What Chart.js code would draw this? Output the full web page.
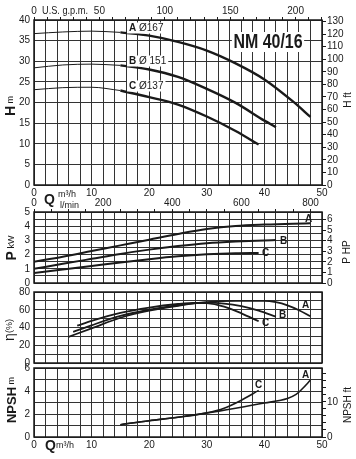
<!DOCTYPE html>
<html><head><meta charset="utf-8">
<script src="https://cdn.jsdelivr.net/npm/chart.js@4/dist/chart.umd.min.js"></script>
<style>
html,body{margin:0;padding:0;background:#fff;}
#wrap{position:relative;width:356px;height:459px;overflow:hidden;background:#fff;}
canvas{position:absolute;left:0;}
</style></head><body>
<div id="wrap">
<canvas id="cH" width="356" height="212" style="top:0px"></canvas>
<canvas id="cP" width="356" height="97" style="top:196px"></canvas>
<canvas id="cE" width="356" height="91" style="top:282px"></canvas>
<canvas id="cN" width="356" height="101" style="top:358px"></canvas>
</div>
<script>
// ---------- DATA ----------
// Head curves H (m) vs Q (m3/h)
const flowA_H = [0,5,10,15,20,25,30,35,40,45,48];
const headA   = [36.7,37.1,37.3,37.0,36.2,34.7,32.6,29.5,25.6,20.2,16.5];
const flowB_H = [0,5,10,15,20,25,30,35,40,42];
const headB   = [28.4,29.1,29.3,29.0,28.0,26.2,23.3,19.9,15.6,14.0];
const flowC_H = [0,5,10,15,20,25,30,35,39];
const headC   = [23.1,23.6,23.7,22.9,21.3,19.5,16.6,13.1,9.8];
const thickFrom = 15; // thin line below this flow, thick above

// Power P (kW)
const flowA_P = [0,5,10,15,20,25,30,35,40,45,48];
const powerA  = [1.5,1.85,2.25,2.65,3.05,3.45,3.8,4.02,4.12,4.18,4.2];
const flowB_P = [0,5,10,15,20,25,30,35,40,42];
const powerB  = [1.0,1.35,1.7,2.05,2.35,2.6,2.8,2.92,3.0,3.02];
const flowC_P = [0,5,10,15,20,25,30,35,39];
const powerC  = [0.7,0.95,1.2,1.45,1.68,1.88,2.02,2.1,2.12];

// Efficiency (%)
const flowA_E = [6,10,15,20,25,30,35,40,42,44,46,48];
const effA    = [29.5,39,51,59,64.5,68.5,70,70,68.5,65,59.5,52.6];
const flowB_E = [6.8,10,15,20,25,28,30,33,36,39,42];
const effB    = [35,42.5,53,60,65,67.5,68,67,64,59,52.2];
const flowC_E = [7.5,10,15,20,25,28,30,33,36,39];
const effC    = [42,47.5,56.5,62.5,66.5,67.8,67.5,63.5,56,47];

// NPSH (m)
const flowA_N = [15,20,25,30,35,40,44,45.5,46.5,48];
const npshA   = [1.07,1.42,1.72,2.08,2.5,2.95,3.35,3.7,4.15,4.95];
const flowC_N = [15,20,25,30,33,36,39];
const npshC   = [1.07,1.42,1.72,2.1,2.5,3.2,4.05];

// Axis ranges / tick labels
const Q_MAX = 50;
const GPM_PER_M3H = 4.40287, LPM_PER_M3H = 1000/60, FT_PER_M = 3.28084, HP_PER_KW = 1.34102;
const H_MAX = 40, P_MAX = 5, E_MAX = 80, N_MAX = 6;
const curveNames = ['A','B','C'];
const diameters = ['Ø167','Ø 151','Ø137'];
const title = 'NM 40/16';

// ---------- STYLE ----------
const SANS = '"Liberation Sans", Helvetica, Arial, sans-serif';
const INK = '#1a1a1a';
const GRID = '#333333';
const F = (sz,b)=> (b?'bold ':'') + sz + 'px ' + SANS;
const tickFont = {family: SANS, size: 10};

function pts(qs, vs){ return qs.map((q,i)=>({x:q, y:vs[i]})); }
function part(qs, vs, lo, hi){ return pts(qs,vs).filter(p=>p.x>=lo && p.x<=hi); }
function ds(data, w){
  return {data, borderColor: INK, borderWidth: w, pointRadius: 0, fill: false,
          tension: 0.4, cubicInterpolationMode: 'monotone'};
}

function textPlugin(items, top){
  return {id:'txt', afterDraw(chart){
    const ctx = chart.ctx;
    items.forEach(it=>{
      ctx.save();
      ctx.textBaseline = 'middle'; ctx.textAlign = 'left';
      const widths = it.segs.map(s=>{ ctx.font = s[1]; return ctx.measureText(s[0]).width; });
      const w = widths.reduce((a,b)=>a+b,0);
      ctx.translate(it.x, it.y - top);
      if (it.rot) ctx.rotate(it.rot);
      if (it.sx) ctx.scale(it.sx, 1);
      let x = it.align==='center' ? -w/2 : (it.align==='right' ? -w : 0);
      if (it.bg) { const bh = it.bg; ctx.fillStyle = '#fff'; ctx.fillRect(x-2, -bh/2, w+4, bh); }
      ctx.fillStyle = INK;
      it.segs.forEach((s,i)=>{ ctx.font = s[1]; ctx.fillText(s[0], x, s[2]||0); x += widths[i]; });
      ctx.restore();
    });
  }};
}
const framePlugin = {id:'frame', afterDraw(chart){
  const a = chart.chartArea, c = chart.ctx;
  c.save(); c.strokeStyle = INK; c.lineWidth = 1.5;
  c.strokeRect(a.left, a.top, a.right-a.left, a.bottom-a.top); c.restore();
}};

function xMain(showLabels, h){
  return {type:'linear', position:'bottom', min:0, max:Q_MAX,
    grid:{color:GRID, lineWidth:1, drawTicks:false}, border:{display:false},
    ticks:{stepSize:2, display:showLabels, padding:2, color:INK, font:tickFont, autoSkip:false, maxRotation:0,
      callback:v=> (v%10===0 ? String(v) : '')},
    afterFit:s=>{ s.height = h; }};
}
function yLeft(max, step, every){
  return {type:'linear', position:'left', min:0, max:max,
    grid:{color:GRID, lineWidth:1, drawTicks:false}, border:{display:false},
    ticks:{stepSize:step, padding:4, color:INK, font:tickFont, autoSkip:false,
      callback:v=> (Math.abs(v/every - Math.round(v/every))<1e-6 ? String(Math.round(v)) : '')},
    afterFit:s=>{ s.width = 34; }};
}
function yRight(max, step, every){
  return {type:'linear', position:'right', min:0, max:max,
    grid:{drawOnChartArea:false, drawTicks:true, tickLength:4, color:INK, lineWidth:1}, border:{display:false},
    ticks:{stepSize:step, padding:1, color:INK, font:tickFont, autoSkip:false, includeBounds:false,
      callback:v=> (Math.abs(v/every - Math.round(v/every))<1e-6 ? String(Math.round(v)) : '')},
    afterFit:s=>{ s.width = 34; }};
}
function xTop(max, step, every, h){
  return {type:'linear', position:'top', min:0, max:max,
    grid:{drawOnChartArea:false, drawTicks:true, tickLength:3, color:INK, lineWidth:1}, border:{display:false},
    ticks:{stepSize:step, padding:0, color:INK, font:tickFont, autoSkip:false, includeBounds:false, maxRotation:0,
      callback:v=> (Math.abs(v/every - Math.round(v/every))<1e-6 ? String(Math.round(v)) : '')},
    afterFit:s=>{ s.height = h; }};
}
const baseOpts = {responsive:false, animation:false, events:[],
  plugins:{legend:{display:false}, tooltip:{enabled:false}}};
const ROT = -Math.PI/2;

// ---------- H chart ----------
const hSets = [[flowA_H,headA],[flowB_H,headB],[flowC_H,headC]];
const hData = [];
hSets.forEach(([q,v])=>{ hData.push(ds(part(q,v,0,thickFrom),1)); hData.push(ds(part(q,v,thickFrom,Q_MAX),2.4)); });
new Chart(document.getElementById('cH'), {
  type:'line', data:{datasets:hData},
  options:Object.assign({}, baseOpts, {layout:{padding:0}, scales:{
    x: xMain(true, 27),
    gpm: xTop(Q_MAX*GPM_PER_M3H, 10, 50, 20),
    y: yLeft(H_MAX, 5, 5),
    yft: yRight(H_MAX*FT_PER_M, 10, 10)
  }}),
  plugins:[framePlugin, textPlugin([
    {x:268, y:42, sx:0.76, align:'center', bg:20, segs:[[title, F(21,true)]]},
    {x:42, y:11, sx:0.92, segs:[['U.S. g.p.m.', F(10)]]},
    {x:129, y:28, bg:11, segs:[[curveNames[0], F(10,true)],[' '+diameters[0], F(10)]]},
    {x:129, y:61, bg:11, segs:[[curveNames[1], F(10,true)],[' '+diameters[1], F(10)]]},
    {x:129, y:86, bg:11, segs:[[curveNames[2], F(10,true)],[' '+diameters[2], F(10)]]},
    {x:44, y:200, segs:[['Q', F(14,true)]]},
    {x:58, y:195, segs:[['m³/h', F(9)]]},
    {x:60, y:206, segs:[['l/min', F(9)]]},
    {x:11, y:106, rot:ROT, align:'center', segs:[['H', F(14,true)],[' m', F(9)]]},
    {x:348, y:100, rot:ROT, align:'center', segs:[['H ft', F(10)]]}
  ], 0)]
});

// ---------- P chart ----------
new Chart(document.getElementById('cP'), {
  type:'line', data:{datasets:[ds(pts(flowA_P,powerA),2), ds(pts(flowB_P,powerB),2), ds(pts(flowC_P,powerC),2)]},
  options:Object.assign({}, baseOpts, {layout:{padding:0}, scales:{
    x: xMain(false, 10),
    lpm: xTop(Q_MAX*LPM_PER_M3H, 50, 200, 16),
    y: yLeft(P_MAX, 0.5, 1),
    yhp: yRight(P_MAX*HP_PER_KW, 1, 1)
  }}),
  plugins:[framePlugin, textPlugin([
    {x:305, y:219, segs:[[curveNames[0], F(10,true)]]},
    {x:280, y:241, segs:[[curveNames[1], F(10,true)]]},
    {x:262, y:253, segs:[[curveNames[2], F(10,true)]]},
    {x:12, y:248, rot:ROT, align:'center', segs:[['P', F(14,true)],[' kW', F(9)]]},
    {x:347, y:252, rot:ROT, align:'center', segs:[['P HP', F(10)]]}
  ], 196)]
});

// ---------- Efficiency chart ----------
new Chart(document.getElementById('cE'), {
  type:'line', data:{datasets:[ds(pts(flowA_E,effA),1.8), ds(pts(flowB_E,effB),1.8), ds(pts(flowC_E,effC),1.8)]},
  options:Object.assign({}, baseOpts, {layout:{padding:{top:10,right:34,left:0,bottom:0}}, scales:{
    x: xMain(false, 10),
    y: yLeft(E_MAX, 10, 20)
  }}),
  plugins:[framePlugin, textPlugin([
    {x:302, y:305, segs:[[curveNames[0], F(10,true)]]},
    {x:279, y:315, segs:[[curveNames[1], F(10,true)]]},
    {x:262, y:323, segs:[[curveNames[2], F(10,true)]]},
    {x:10, y:330, rot:ROT, align:'center', segs:[['η', F(14)],['(%)', F(9)]]}
  ], 282)]
});

// ---------- NPSH chart ----------
new Chart(document.getElementById('cN'), {
  type:'line', data:{datasets:[ds(pts(flowA_N,npshA),1.6), ds(pts(flowC_N,npshC),1.6)]},
  options:Object.assign({}, baseOpts, {layout:{padding:{top:10,left:0,right:0,bottom:0}}, scales:{
    x: xMain(true, 22),
    y: yLeft(N_MAX, 1, 2),
    yft: yRight(N_MAX*FT_PER_M, 2, 10)
  }}),
  plugins:[framePlugin, textPlugin([
    {x:302, y:375, segs:[[curveNames[0], F(10,true)]]},
    {x:255, y:385, segs:[[curveNames[2], F(10,true)]]},
    {x:45, y:446, segs:[['Q', F(14,true)]]},
    {x:56, y:446, segs:[['m³/h', F(9)]]},
    {x:12, y:400, rot:ROT, align:'center', segs:[['NPSH', F(13,true)],[' m', F(9)]]},
    {x:348, y:405, rot:ROT, align:'center', segs:[['NPSH ft', F(10)]]}
  ], 358)]
});
</script>
</body></html>
